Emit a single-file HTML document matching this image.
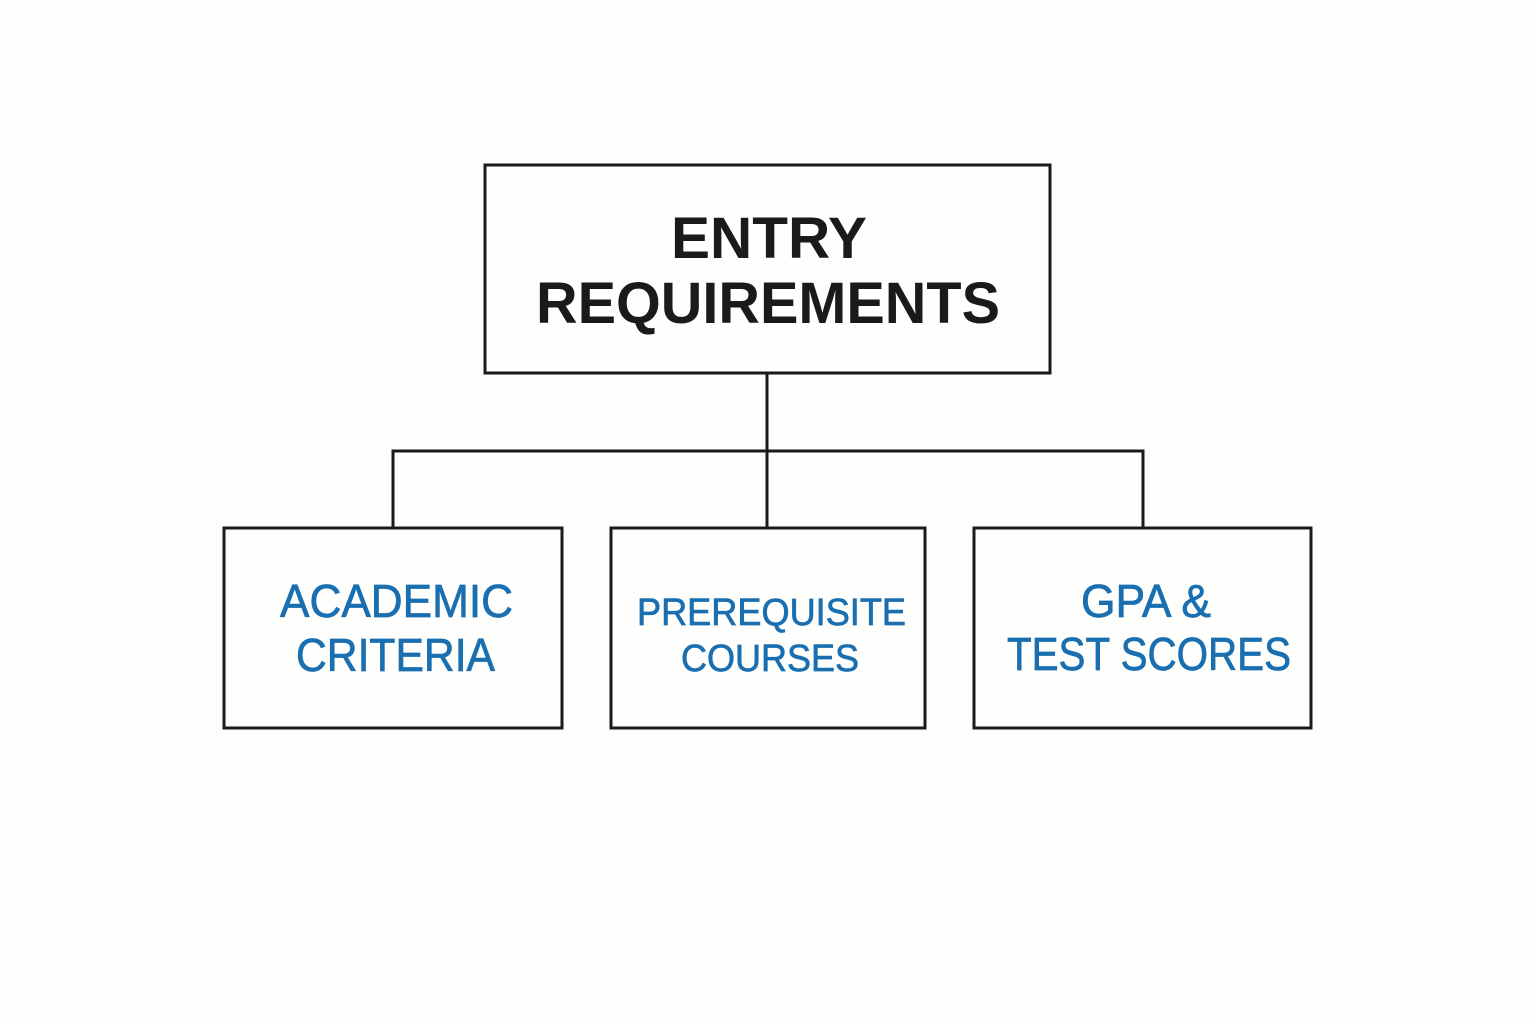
<!DOCTYPE html>
<html><head><meta charset="utf-8"><style>html,body{margin:0;padding:0;background:#fdfdfb}svg{display:block}</style></head>
<body>
<svg width="1536" height="1024" viewBox="0 0 1536 1024" xmlns="http://www.w3.org/2000/svg">
<rect width="1536" height="1024" fill="#fdfdfb"/>
<g stroke="#1a1a1a" stroke-width="3" fill="none">
<rect x="485" y="165" width="565" height="208" fill="#fefefd"/>
<line x1="767" y1="373" x2="767" y2="528"/>
<polyline points="393,528 393,451 1143,451 1143,528"/>
<rect x="224" y="528" width="338" height="200" fill="#fefefd"/>
<rect x="611" y="528" width="314" height="200" fill="#fefefd"/>
<rect x="974" y="528" width="337" height="200" fill="#fefefd"/>
</g>
<g font-family="Liberation Sans, sans-serif" text-anchor="start">
<text x="671" y="258" font-size="58" font-weight="bold" fill="#1a1a1a" textLength="196" lengthAdjust="spacingAndGlyphs">ENTRY</text>
<text x="536" y="323" font-size="58" font-weight="bold" fill="#1a1a1a" textLength="464" lengthAdjust="spacingAndGlyphs">REQUIREMENTS</text>
<g fill="#1a6fb0" stroke="#1a6fb0" stroke-width="0.7">
<text x="280" y="617" font-size="46" textLength="233" lengthAdjust="spacingAndGlyphs">ACADEMIC</text>
<text x="296" y="671" font-size="46" textLength="199" lengthAdjust="spacingAndGlyphs">CRITERIA</text>
<text x="637" y="625" font-size="38" textLength="269" lengthAdjust="spacingAndGlyphs">PREREQUISITE</text>
<text x="681" y="671" font-size="38" textLength="178" lengthAdjust="spacingAndGlyphs">COURSES</text>
<text x="1081" y="617" font-size="46" textLength="130" lengthAdjust="spacingAndGlyphs">GPA &amp;</text>
<text x="1007" y="670" font-size="46" textLength="284" lengthAdjust="spacingAndGlyphs">TEST SCORES</text>
</g>
</g>
</svg>
</body></html>
